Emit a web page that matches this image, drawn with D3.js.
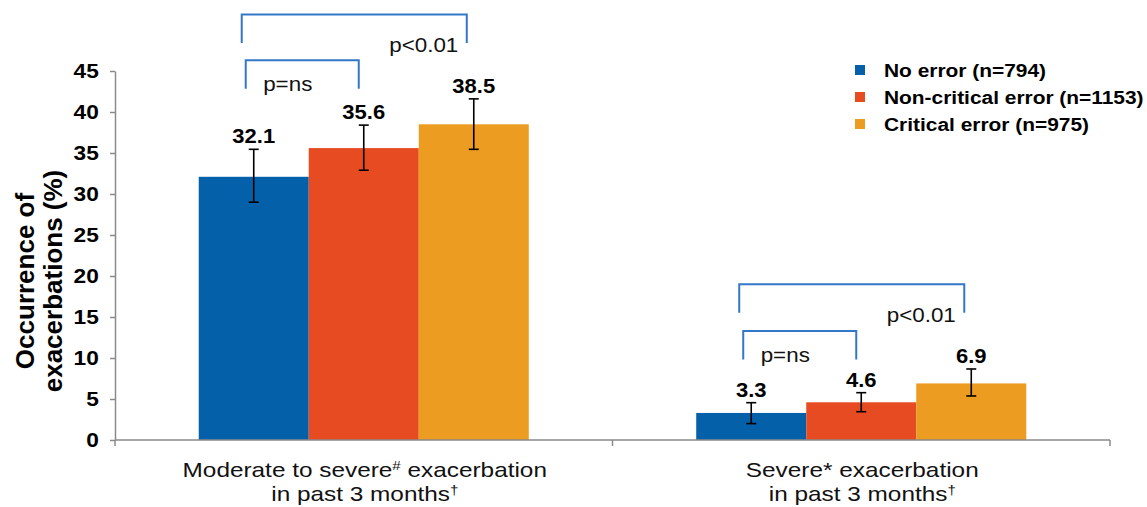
<!DOCTYPE html>
<html>
<head>
<meta charset="utf-8">
<script src="https://cdn.jsdelivr.net/npm/d3@7"></script>
<style>
  html, body { margin: 0; padding: 0; background: #fff; }
  svg { display: block; font-family: "Liberation Sans", Arial, sans-serif; }
</style>
</head>
<body>
<svg id="chart" width="1147" height="507"></svg>
<script>
// ---------- data ----------
const categories = ["Moderate to severe exacerbation", "Severe exacerbation"];
const seriesNames = ["No error (n=794)", "Non-critical error (n=1153)", "Critical error (n=975)"];
const noError = [32.1, 3.3];
const nonCritical = [35.6, 4.6];
const critical = [38.5, 6.9];
const noErrorLow = [29.0, 2.0];
const noErrorHigh = [35.45, 4.55];
const nonCriticalLow = [32.9, 3.45];
const nonCriticalHigh = [38.4, 5.77];
const criticalLow = [35.45, 5.37];
const criticalHigh = [41.6, 8.66];
const yTicks = [0, 5, 10, 15, 20, 25, 30, 35, 40, 45];
const yTitle = ["Occurrence of", "exacerbations (%)"];
// category label pieces: [text, superscript?]
const categoryLine1 = [
  [["Moderate to severe", false], ["#", true], [" exacerbation", false]],
  [["Severe* exacerbation", false]]
];
const categoryLine2 = [
  [["in past 3 months", false], ["\u2020", true]],
  [["in past 3 months", false], ["\u2020", true]]
];
// comparisons: category index, first series, second series, bracket top value, label
const compCategory = [0, 0, 1, 1];
const compFrom = [0, 0, 0, 0];
const compTo = [1, 2, 1, 2];
const compTop = [46.3, 51.9, 13.3, 19.0];
const compLabel = ["p=ns", "p<0.01", "p=ns", "p<0.01"];

const values = [noError, nonCritical, critical];
const lows = [noErrorLow, nonCriticalLow, criticalLow];
const highs = [noErrorHigh, nonCriticalHigh, criticalHigh];
const colors = ["#0560AA", "#E64B22", "#EC9C20"];
const bracketColor = "#3378C8";
const axisColor = "#8a8a8a";

// ---------- scales ----------
const svg = d3.select("#chart");
const x0 = d3.scaleBand().domain(d3.range(categories.length)).range([115, 1110]).paddingInner(0).paddingOuter(0);
const x1 = d3.scaleBand().domain(d3.range(seriesNames.length)).range([0, x0.bandwidth()]).paddingInner(0).paddingOuter(0.761);
const y = d3.scaleLinear().domain([0, 45]).range([440, 71]);

function stretchText(sel, x, yy, sx) {
  return sel.attr("transform", `translate(${x},${yy}) scale(${sx || 1.1},1)`);
}

// ---------- bars ----------
const data = [];
categories.forEach((c, ci) => seriesNames.forEach((s, si) => {
  data.push({ ci, si, v: values[si][ci], lo: lows[si][ci], hi: highs[si][ci] });
}));
const cx = d => x0(d.ci) + x1(d.si) + x1.bandwidth() / 2;

svg.append("g").selectAll("rect").data(data).join("rect")
  .attr("x", d => x0(d.ci) + x1(d.si))
  .attr("y", d => y(d.v))
  .attr("width", x1.bandwidth())
  .attr("height", d => y(0) - y(d.v))
  .attr("fill", d => colors[d.si]);

// ---------- axes ----------
const yAxis = svg.append("g").attr("transform", "translate(115,0)")
  .call(d3.axisLeft(y).tickValues(yTicks).tickSize(5).tickSizeOuter(0).tickPadding(10));
yAxis.select(".domain").attr("stroke", axisColor).attr("stroke-width", 1.5);
yAxis.selectAll(".tick line").attr("stroke", axisColor).attr("stroke-width", 1.5);
yAxis.selectAll(".tick text").attr("font-size", 21).attr("font-weight", "bold").attr("fill", "#000")
  .attr("font-family", "Liberation Sans, Arial, sans-serif")
  .attr("transform", "translate(-100,0) scale(1.08,1) translate(92.6,0)");

const xAxis = svg.append("g");
xAxis.append("line").attr("x1", x0.range()[0]).attr("x2", x0.range()[1])
  .attr("y1", y(0)).attr("y2", y(0)).attr("stroke", axisColor).attr("stroke-width", 1.5);
const bounds = d3.range(categories.length).map(i => x0(i)).concat([x0(categories.length - 1) + x0.bandwidth()]);
xAxis.selectAll("line.tk").data(bounds).join("line").attr("class", "tk")
  .attr("x1", d => d).attr("x2", d => d).attr("y1", y(0)).attr("y2", y(0) + 6)
  .attr("stroke", axisColor).attr("stroke-width", 1.5);

// ---------- error bars ----------
const eb = svg.append("g").attr("stroke", "#000").attr("stroke-width", 1.6);
eb.selectAll("line.v").data(data).join("line").attr("class", "v")
  .attr("x1", cx).attr("x2", cx).attr("y1", d => y(d.lo)).attr("y2", d => y(d.hi));
eb.selectAll("line.t").data(data).join("line").attr("class", "t")
  .attr("x1", d => cx(d) - 5).attr("x2", d => cx(d) + 5).attr("y1", d => y(d.hi)).attr("y2", d => y(d.hi));
eb.selectAll("line.b").data(data).join("line").attr("class", "b")
  .attr("x1", d => cx(d) - 5).attr("x2", d => cx(d) + 5).attr("y1", d => y(d.lo)).attr("y2", d => y(d.lo));

// ---------- value labels ----------
svg.append("g").selectAll("text").data(data).join("text")
  .each(function (d) { stretchText(d3.select(this), cx(d), y(d.hi) - 6, 1.1); })
  .attr("text-anchor", "middle").attr("font-size", 20).attr("font-weight", "bold").attr("fill", "#000")
  .text(d => d.v.toFixed(1));

// ---------- comparison brackets ----------
const comps = compCategory.map((c, i) => ({ c, from: compFrom[i], to: compTo[i], top: compTop[i], label: compLabel[i] }));
const bg = svg.append("g");
comps.forEach(cp => {
  const outer = cp.to - cp.from > 1;
  const xa = x0(cp.c) + x1(cp.from) + x1.bandwidth() / 2 + (outer ? -12 : -8);
  const xb = x0(cp.c) + x1(cp.to) + x1.bandwidth() / 2 + (outer ? -7 : -5);
  const yt = y(cp.top);
  bg.append("path")
    .attr("d", `M${xa},${yt + 28.5}V${yt}H${xb}V${yt + 28.5}`)
    .attr("fill", "none").attr("stroke", bracketColor).attr("stroke-width", 2);
  const t = bg.append("text").attr("text-anchor", "middle").attr("font-size", 20).attr("fill", "#111").text(cp.label);
  if (outer) stretchText(t, xb - 43, yt + 37.5, 1.12);
  else stretchText(t, xa + 42, yt + 31, 1.12);
});

// ---------- category labels ----------
const cg = svg.append("g");
categories.forEach((c, ci) => {
  const xc = x0(ci) + x0.bandwidth() / 2 + 1;
  [[categoryLine1[ci], 477], [categoryLine2[ci], 501]].forEach(([parts, yy]) => {
    const t = cg.append("text").attr("text-anchor", "middle").attr("font-size", 21).attr("fill", "#111");
    stretchText(t, xc, yy, 1.16);
    parts.forEach(([s, sup]) => {
      const ts = t.append("tspan").text(s);
      if (sup) ts.attr("font-size", 13).attr("baseline-shift", "super");
    });
  });
});

// ---------- y title ----------
const tg = svg.append("g");
yTitle.forEach((s, i) => {
  tg.append("text").attr("transform", `translate(${34 + i * 28},281) rotate(-90)`)
    .attr("text-anchor", "middle").attr("font-size", 26).attr("font-weight", "bold").attr("fill", "#000")
    .text(s);
});

// ---------- legend ----------
const lg = svg.append("g");
seriesNames.forEach((s, i) => {
  const yy = 70 + i * 27;
  lg.append("rect").attr("x", 855).attr("y", yy - 5).attr("width", 10).attr("height", 10).attr("fill", colors[i]);
  const t = lg.append("text").attr("font-size", 19).attr("font-weight", "bold").attr("fill", "#000")
    .attr("dominant-baseline", "central").text(s);
  stretchText(t, 884, yy, 1.1);
});
</script>
</body>
</html>
